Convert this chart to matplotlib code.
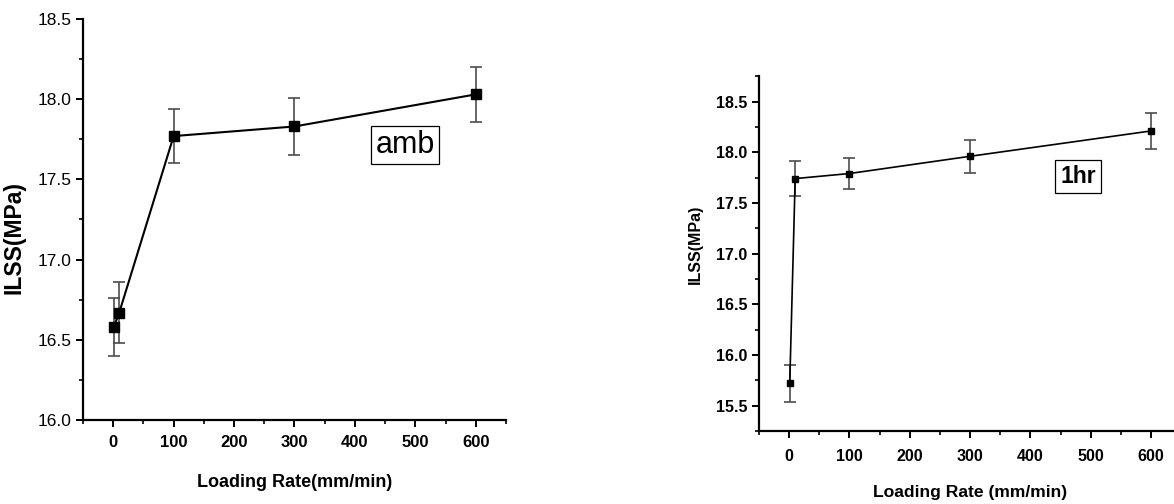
import numpy as np
import matplotlib
matplotlib.use("Agg")
import matplotlib.pyplot as plt
from matplotlib.ticker import MultipleLocator, FormatStrFormatter

plt.rcParams.update({
    "font.family": ["Liberation Sans", "DejaVu Sans"],
    "axes.linewidth": 1.6,
    "xtick.direction": "out", "ytick.direction": "out",
    "xtick.major.width": 1.4, "ytick.major.width": 1.4,
    "xtick.minor.width": 1.2, "ytick.minor.width": 1.2,
    "xtick.major.size": 5, "ytick.major.size": 5,
    "xtick.minor.size": 3, "ytick.minor.size": 3,
})

# loading rate (mm/min)
rate = [1, 10, 100, 300, 600]
# ambient
ilss_amb = [16.58, 16.67, 17.77, 17.83, 18.03]
err_amb = [0.18, 0.19, 0.17, 0.18, 0.17]
# 1 hr
ilss_1hr = [15.72, 17.74, 17.79, 17.96, 18.21]
err_1hr = [0.18, 0.17, 0.15, 0.16, 0.18]

fig = plt.figure(figsize=(11.74, 5.04), dpi=100)
ax1 = fig.add_axes([0.0707, 0.1667, 0.3603, 0.7956])
ax2 = fig.add_axes([0.6465, 0.1448, 0.3596, 0.7040])

def style(ax, ylo, yhi):
    for s in ("top", "right"):
        ax.spines[s].set_visible(False)
    ax.set_xlim(-50, 650)
    ax.set_ylim(ylo, yhi)
    ax.xaxis.set_major_locator(MultipleLocator(100))
    ax.xaxis.set_minor_locator(MultipleLocator(50))
    ax.yaxis.set_major_locator(MultipleLocator(0.5))
    ax.yaxis.set_minor_locator(MultipleLocator(0.25))
    ax.yaxis.set_major_formatter(FormatStrFormatter("%.1f"))

# left: ambient
ax1.errorbar(rate, ilss_amb, yerr=err_amb, fmt="-s", color="black", ms=7, lw=1.5,
             ecolor="0.3", elinewidth=1.2, capsize=4, capthick=1.2)
style(ax1, 16.0, 18.5)
ax1.tick_params(axis="x", labelsize=12, pad=6)
ax1.tick_params(axis="y", labelsize=12.5)
for t in ax1.get_xticklabels():
    t.set_fontweight("bold")
ax1.set_xlabel("Loading Rate(mm/min)", fontsize=13, fontweight="bold", labelpad=17)
ax1.set_ylabel("ILSS(MPa)", fontsize=16.5, fontweight="bold")
ax1.yaxis.set_label_coords(-0.137, 0.456)
ax1.text(0.761, 0.686, "amb", transform=ax1.transAxes, fontsize=22,
         ha="center", va="center",
         bbox=dict(boxstyle="square,pad=0.14", fc="white", ec="black", lw=0.9))

# right: 1 hr
ax2.errorbar(rate, ilss_1hr, yerr=err_1hr, fmt="-s", color="black", ms=5, lw=1.2,
             ecolor="0.3", elinewidth=1.2, capsize=4, capthick=1.2)
style(ax2, 15.25, 18.75)
ax2.tick_params(axis="x", labelsize=11.5, pad=8)
ax2.tick_params(axis="y", labelsize=11.5)
for t in ax2.get_xticklabels() + ax2.get_yticklabels():
    t.set_fontweight("bold")
ax2.set_xlabel("Loading Rate (mm/min)", fontsize=12.6, fontweight="bold", labelpad=15)
ax2.set_ylabel("ILSS(MPa)", fontsize=11.5, fontweight="bold")
ax2.yaxis.set_label_coords(-0.133, 0.527)
ax2.text(0.756, 0.718, "1hr", transform=ax2.transAxes, fontsize=16.5, fontweight="bold",
         ha="center", va="center",
         bbox=dict(boxstyle="square,pad=0.22", fc="white", ec="black", lw=0.9))

fig.savefig("out.png", dpi=100)
